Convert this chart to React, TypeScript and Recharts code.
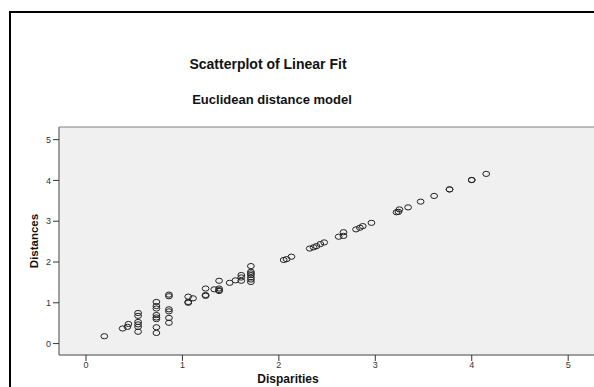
import { ScatterChart, Scatter, XAxis, YAxis, ReferenceArea } from 'recharts';

// disparities (x) and fitted distances (y)
const disparities = [
  0.19, 0.38, 0.43, 0.44,
  0.54, 0.54, 0.54, 0.54, 0.54, 0.54,
  0.73, 0.73, 0.73, 0.73, 0.73, 0.73, 0.73, 0.73,
  0.86, 0.86, 0.86, 0.86, 0.86, 0.86,
  1.06, 1.06, 1.06, 1.11,
  1.24, 1.24, 1.24,
  1.33, 1.38, 1.38, 1.38, 1.38,
  1.49, 1.55, 1.61, 1.61, 1.61,
  1.71, 1.71, 1.71, 1.71, 1.71, 1.71, 1.71,
  2.05, 2.08, 2.13,
  2.32, 2.36, 2.39, 2.43, 2.47,
  2.62, 2.67, 2.67,
  2.80, 2.84, 2.87, 2.96,
  3.22, 3.24, 3.25, 3.34, 3.47, 3.61,
  3.77, 3.77, 4.0, 4.0, 4.15,
];
const distances = [
  0.18, 0.37, 0.41, 0.48,
  0.75, 0.68, 0.53, 0.47, 0.41, 0.29,
  1.02, 0.92, 0.86, 0.7, 0.64, 0.6, 0.4, 0.26,
  1.2, 1.16, 0.84, 0.79, 0.63, 0.51,
  1.15, 1.02, 1.0, 1.11,
  1.35, 1.19, 1.17,
  1.33, 1.54, 1.35, 1.31, 1.29,
  1.49, 1.55, 1.68, 1.62, 1.54,
  1.9, 1.76, 1.72, 1.68, 1.62, 1.57, 1.51,
  2.05, 2.07, 2.13,
  2.33, 2.36, 2.39, 2.44, 2.48,
  2.62, 2.64, 2.73,
  2.8, 2.84, 2.88, 2.96,
  3.22, 3.23, 3.29, 3.34, 3.48, 3.62,
  3.78, 3.78, 4.01, 4.01, 4.16,
];
const xTicks = [0, 1, 2, 3, 4, 5];
const yTicks = [0, 1, 2, 3, 4, 5];

const points = disparities.map((d, i) => ({ x: d, y: distances[i] }));

const X_MIN = -0.28;
const X_MAX = 5.33;
const Y_MIN = -0.28;
const Y_MAX = 5.31;

const OpenDot = (props: any) => (
  <ellipse cx={props.cx} cy={props.cy} rx={3.4} ry={2.6} fill="none" stroke="#222" strokeWidth={1} />
);

export default function App() {
  return (
    <div
      style={{
        position: 'fixed',
        left: 0,
        top: 0,
        width: 594,
        height: 387,
        overflow: 'hidden',
        background: '#fff',
        fontFamily: '"Liberation Sans", Arial, sans-serif',
      }}
    >
      {/* outer frame */}
      <div
        style={{
          position: 'absolute',
          left: 9,
          top: 11,
          width: 700,
          height: 500,
          border: '2px solid #000',
        }}
      />
      <div style={{ position: 'absolute', left: 0, width: 536, top: 56, textAlign: 'center', fontSize: 14, fontWeight: 'bold', color: '#111' }}>
        Scatterplot of Linear Fit
      </div>
      <div style={{ position: 'absolute', left: 0, width: 544, top: 92, textAlign: 'center', fontSize: 13, fontWeight: 'bold', color: '#111' }}>
        Euclidean distance model
      </div>
      <div style={{ position: 'absolute', left: 0, top: 0 }}>
        <ScatterChart width={620} height={387} margin={{ top: 127, right: 20, bottom: 12, left: 29 }}>
          <XAxis
            type="number"
            dataKey="x"
            domain={[X_MIN, X_MAX]}
            ticks={xTicks}
            allowDataOverflow
            height={20}
            tickSize={6}
            tickMargin={1}
            axisLine={{ stroke: '#808080' }}
            tickLine={{ stroke: '#333' }}
            tick={{ fill: '#333', fontSize: 9 }}
          />
          <YAxis
            type="number"
            dataKey="y"
            domain={[Y_MIN, Y_MAX]}
            ticks={yTicks}
            allowDataOverflow
            width={30}
            tickSize={6}
            tickMargin={2}
            axisLine={{ stroke: '#808080' }}
            tickLine={{ stroke: '#333' }}
            tick={{ fill: '#333', fontSize: 9 }}
          />
          <ReferenceArea x1={X_MIN} x2={X_MAX} y1={Y_MIN} y2={Y_MAX} fill="#f0f0f0" fillOpacity={1} stroke="#808080" strokeWidth={1} />
          <Scatter data={points} shape={OpenDot} isAnimationActive={false} />
        </ScatterChart>
      </div>
      <div style={{ position: 'absolute', left: 250, width: 76, top: 372, textAlign: 'center', fontSize: 12, fontWeight: 'bold', color: '#111' }}>
        Disparities
      </div>
      <div
        style={{
          position: 'absolute',
          left: 34,
          top: 241,
          transform: 'translate(-50%, -50%) rotate(-90deg)',
          fontSize: 11.5,
          fontWeight: 'bold',
          color: '#111',
          whiteSpace: 'nowrap',
        }}
      >
        Distances
      </div>
    </div>
  );
}
